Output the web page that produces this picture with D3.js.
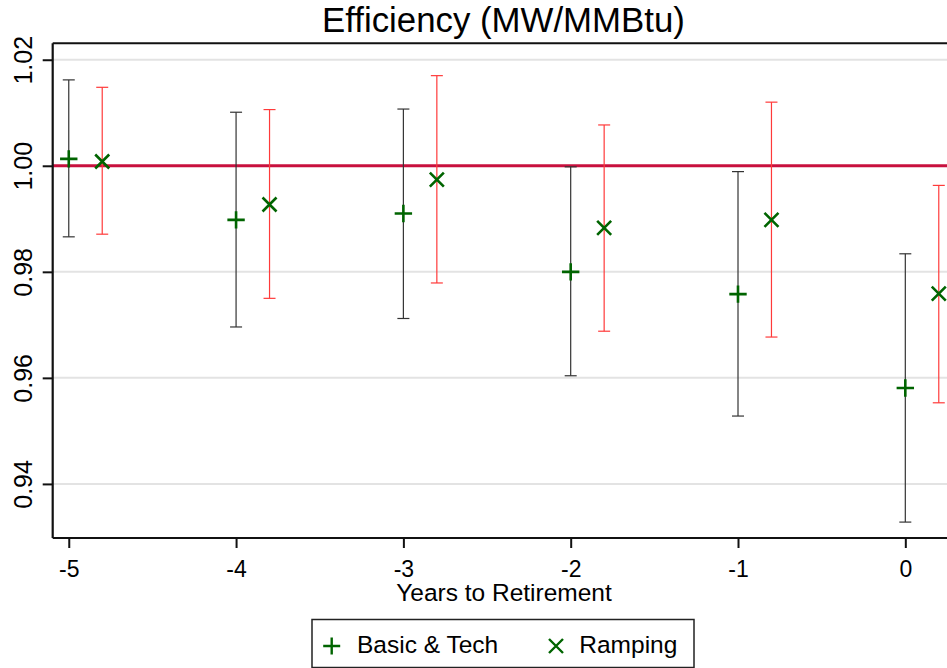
<!DOCTYPE html>
<html>
<head>
<meta charset="utf-8">
<script src="https://cdn.jsdelivr.net/npm/d3@7"></script>
<style>
  html, body { margin: 0; padding: 0; background: #fff; overflow: hidden; }
  svg { display: block; }
  text { font-family: "Liberation Sans", Arial, Helvetica, sans-serif; fill: #000; }
</style>
</head>
<body>
<svg id="chart" width="947" height="668"></svg>
<script>
// Years before plant retirement
const years = [-5, -4, -3, -2, -1, 0];

// Basic & Tech estimates with 95% interval
const basicEst = [1.0013, 0.9898, 0.9910, 0.9800, 0.9758, 0.9581];
const basicLo  = [0.9866, 0.9696, 0.9712, 0.9604, 0.9528, 0.9328];
const basicHi  = [1.0162, 1.0101, 1.0107, 0.9998, 0.9989, 0.9834];

// Ramping estimates with 95% interval
const rampEst = [1.0008, 0.9927, 0.9974, 0.9883, 0.9898, 0.9759];
const rampLo  = [0.9871, 0.9750, 0.9779, 0.9688, 0.9677, 0.9553];
const rampHi  = [1.0148, 1.0106, 1.0170, 1.0077, 1.0120, 0.9963];

const yTicks = [0.94, 0.96, 0.98, 1.00, 1.02];
const xTicks = [-5, -4, -3, -2, -1, 0];
const xTickLabels = ["-5", "-4", "-3", "-2", "-1", "0"];
const refValue = 1.00;
const rampShift = 0.2;

const titleText = "Efficiency (MW/MMBtu)";
const xTitle = "Years to Retirement";
const legendLabels = ["Basic & Tech", "Ramping"];

const svg = d3.select("#chart");
const plotL = 52.7, plotR = 954, plotT = 43.3, plotB = 538;

const x = d3.scaleLinear().domain([-5.096, 0.291]).range([plotL, plotR]);
const y = d3.scaleLinear().domain([0.9298, 1.0231]).range([plotB, plotT]);

const markColor = "#006400";

// Gridlines
svg.append("g").selectAll("line")
  .data(yTicks.filter(v => v !== refValue))
  .join("line")
  .attr("x1", plotL).attr("x2", plotR)
  .attr("y1", d => y(d)).attr("y2", d => y(d))
  .attr("stroke", "#e3e3e3").attr("stroke-width", 2);

// Reference line at 1
svg.append("line")
  .attr("x1", plotL).attr("x2", plotR)
  .attr("y1", y(refValue)).attr("y2", y(refValue))
  .attr("stroke", "#c8103e").attr("stroke-width", 3);

// Error bars
function errorBars(xs, lo, hi, color, shift) {
  const g = svg.append("g").attr("stroke", color).attr("stroke-width", 1.2).attr("fill", "none");
  const capW = 6;
  xs.forEach((yr, i) => {
    const cx = x(yr + shift);
    g.append("line").attr("x1", cx).attr("x2", cx).attr("y1", y(lo[i])).attr("y2", y(hi[i]));
    g.append("line").attr("x1", cx - capW).attr("x2", cx + capW).attr("y1", y(lo[i])).attr("y2", y(lo[i]));
    g.append("line").attr("x1", cx - capW).attr("x2", cx + capW).attr("y1", y(hi[i])).attr("y2", y(hi[i]));
  });
}
errorBars(years, basicLo, basicHi, "#333333", 0);
errorBars(years, rampLo, rampHi, "#ff3a3a", rampShift);

// Marker shapes
function plusPath(cx, cy, r) {
  return `M${cx - r},${cy}H${cx + r}M${cx},${cy - r}V${cy + r}`;
}
function crossPath(cx, cy, r) {
  return `M${cx - r},${cy - r}L${cx + r},${cy + r}M${cx - r},${cy + r}L${cx + r},${cy - r}`;
}

svg.append("g").selectAll("path")
  .data(years.map((yr, i) => [yr, basicEst[i]]))
  .join("path")
  .attr("d", d => plusPath(x(d[0]), y(d[1]), 8.7))
  .attr("stroke", markColor).attr("stroke-width", 2.6).attr("fill", "none");

svg.append("g").selectAll("path")
  .data(years.map((yr, i) => [yr + rampShift, rampEst[i]]))
  .join("path")
  .attr("d", d => crossPath(x(d[0]), y(d[1]), 7))
  .attr("stroke", markColor).attr("stroke-width", 2.6).attr("fill", "none");

// Frame: top border
svg.append("line")
  .attr("x1", plotL).attr("x2", plotR).attr("y1", plotT).attr("y2", plotT)
  .attr("stroke", "#111").attr("stroke-width", 2);

// Y axis
const yAxis = svg.append("g")
  .attr("transform", `translate(${plotL},0)`)
  .call(d3.axisLeft(y).tickValues(yTicks).tickSize(10).tickSizeOuter(0).tickFormat(d3.format(".2f")));
yAxis.select(".domain").attr("stroke", "#111").attr("stroke-width", 2.2)
  .attr("d", `M0,${plotT}V${plotB}`);
yAxis.selectAll(".tick line").attr("stroke", "#111").attr("stroke-width", 2);
yAxis.selectAll(".tick text")
  .attr("x", null).attr("dy", null)
  .attr("transform", "translate(-21,0) rotate(-90)")
  .attr("text-anchor", "middle")
  .style("font-size", "25px")
  .style("font-family", "'Liberation Sans', Arial, sans-serif");

// X axis (plain hyphen for negative labels)
const xAxis = svg.append("g")
  .attr("transform", `translate(0,${plotB})`)
  .call(d3.axisBottom(x).tickValues(xTicks).tickSize(10).tickSizeOuter(0)
    .tickFormat(d => xTickLabels[xTicks.indexOf(d)]));
xAxis.select(".domain").attr("stroke", "#111").attr("stroke-width", 2.2)
  .attr("d", `M${plotL},0H${plotR}`);
xAxis.selectAll(".tick line").attr("stroke", "#111").attr("stroke-width", 2);
xAxis.selectAll(".tick text")
  .attr("y", 38.5).attr("dy", null)
  .style("font-size", "23px")
  .style("font-family", "'Liberation Sans', Arial, sans-serif");

// Title and axis title
svg.append("text")
  .attr("x", 503.5).attr("y", 31.5)
  .attr("text-anchor", "middle")
  .style("font-size", "34.8px")
  .text(titleText);

svg.append("text")
  .attr("x", 504).attr("y", 601)
  .attr("text-anchor", "middle")
  .style("font-size", "24.5px")
  .text(xTitle);

// Legend
const lg = svg.append("g");
lg.append("rect")
  .attr("x", 312).attr("y", 619.5).attr("width", 382).attr("height", 48)
  .attr("fill", "#fff").attr("stroke", "#222").attr("stroke-width", 1.5);
lg.append("path").attr("d", plusPath(331.7, 646, 8.5))
  .attr("stroke", markColor).attr("stroke-width", 2.4).attr("fill", "none");
lg.append("text").attr("x", 357).attr("y", 653.3).style("font-size", "24.5px").text(legendLabels[0]);
lg.append("path").attr("d", crossPath(556, 646, 7))
  .attr("stroke", markColor).attr("stroke-width", 2.4).attr("fill", "none");
lg.append("text").attr("x", 579.3).attr("y", 653.3).style("font-size", "24.5px").text(legendLabels[1]);
</script>
</body>
</html>
